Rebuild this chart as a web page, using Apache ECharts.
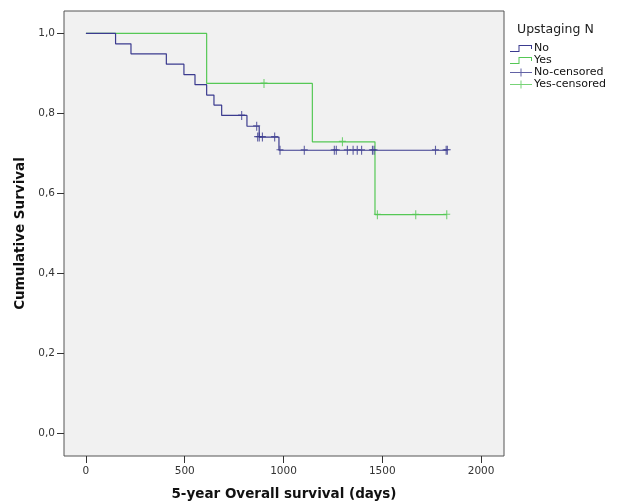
<!DOCTYPE html>
<html>
<head>
<meta charset="utf-8">
<script src="https://cdn.jsdelivr.net/npm/echarts@6/dist/echarts.min.js"></script>
<style>
html,body{margin:0;padding:0;background:#fff;}
#chart{width:621px;height:504px;}
</style>
</head>
<body>
<div id="chart"></div>
<script>
// Kaplan-Meier step curves: [day, cumulative survival]
var noCurve = [[0,1],[150,0.974],[228,0.949],[407,0.923],[496,0.897],[552,0.872],[611,0.846],[648,0.821],[687,0.795],[815,0.768],[877,0.741],[977,0.708],[1829,0.708]];
var yesCurve = [[0,1],[611,0.875],[1146,0.729],[1463,0.547],[1826,0.547]];
// Censored observations: [day, cumulative survival]
var noCensored = [[788,0.795],[864,0.768],[869,0.741],[877,0.741],[893,0.741],[955,0.741],[982,0.708],[1105,0.708],[1257,0.708],[1267,0.708],[1323,0.708],[1352,0.708],[1373,0.708],[1395,0.708],[1450,0.708],[1458,0.708],[1769,0.708],[1823,0.708],[1829,0.708]];
var yesCensored = [[901,0.875],[1298,0.729],[1475,0.547],[1669,0.547],[1826,0.547]];
var xTicks = [0,500,1000,1500,2000];
var yTicks = [0,0.2,0.4,0.6,0.8,1.0];
var seriesNames = ['No','Yes','No-censored','Yes-censored'];
var legendTitle = 'Upstaging N';
var xTitle = '5-year Overall survival (days)';
var yTitle = 'Cumulative Survival';

var BLUE = '#3b3b8f', GREEN = '#55c855';
var FONT = 'DejaVu Sans';
var plusSym = 'path://M0,3.5L7,3.5L7,4.6L0,4.6Z M3,0L4.1,0L4.1,9L3,9Z';
var stepIcon = 'path://M0,6.5L9.5,6.5L9.5,7.5L0,7.5Z M8.5,0.5L9.5,0.5L9.5,7.5L8.5,7.5Z M8.5,0.5L22,0.5L22,1.5L8.5,1.5Z M21,0.5L22,0.5L22,4.5L21,4.5Z';
var plusIcon = 'path://M0,3.5L22,3.5L22,4.5L0,4.5Z M10.5,0L11.5,0L11.5,8L10.5,8Z';

var chart = echarts.init(document.getElementById('chart'), null, {renderer:'canvas'});
chart.setOption({
  animation:false,
  backgroundColor:'#ffffff',
  title:{text:legendTitle, left:512, top:18, textStyle:{fontFamily:FONT, fontSize:12.5, fontWeight:'normal', color:'#222'}},
  legend:{
    orient:'vertical', left:505, top:38, itemWidth:22, itemHeight:8, itemGap:1,
    textStyle:{fontFamily:FONT, fontSize:11, color:'#111', padding:[0,0,0,-3]},
    data:[
      {name:seriesNames[0], icon:stepIcon},
      {name:seriesNames[1], icon:stepIcon},
      {name:seriesNames[2], icon:plusIcon},
      {name:seriesNames[3], icon:plusIcon}
    ]
  },
  grid:{left:64, top:11, right:117, bottom:48, outerBoundsMode:'none', containLabel:false,
    show:true, backgroundColor:'#f1f1f1', borderColor:'#555', borderWidth:1},
  xAxis:{
    type:'value', min:-111, max:2116,
    name:xTitle, nameLocation:'middle', nameGap:31,
    nameTextStyle:{fontFamily:FONT, fontSize:13.5, fontWeight:'bold', color:'#111'},
    axisLine:{show:false, onZero:false},
    axisTick:{show:true, length:7, customValues:xTicks, lineStyle:{color:'#333'}},
    axisLabel:{customValues:xTicks, margin:10, fontFamily:FONT, fontSize:10.5, color:'#333',
      formatter:function(v){return String(v);}},
    splitLine:{show:false}
  },
  yAxis:{
    type:'value', min:-0.056, max:1.056,
    name:yTitle, nameLocation:'middle', nameGap:35, nameRotate:90,
    nameTextStyle:{fontFamily:FONT, fontSize:13.5, fontWeight:'bold', color:'#111'},
    axisLine:{show:false, onZero:false},
    axisTick:{show:true, length:7, customValues:yTicks, lineStyle:{color:'#333'}},
    axisLabel:{customValues:yTicks, margin:9, fontFamily:FONT, fontSize:10.5, color:'#333',
      formatter:function(v){return v.toFixed(1).replace('.',',');}},
    splitLine:{show:false}
  },
  series:[
    {name:seriesNames[0], type:'line', step:'end', data:noCurve, symbol:'none', color:BLUE, itemStyle:{color:BLUE}, lineStyle:{color:BLUE, width:1.2}, z:3},
    {name:seriesNames[1], type:'line', step:'end', data:yesCurve, symbol:'none', color:GREEN, itemStyle:{color:GREEN}, lineStyle:{color:GREEN, width:1.2}, z:2},
    {name:seriesNames[2], type:'scatter', data:noCensored, symbol:plusSym, symbolSize:[7,9], color:BLUE, itemStyle:{color:BLUE}, z:4},
    {name:seriesNames[3], type:'scatter', data:yesCensored, symbol:plusSym, symbolSize:[7,9], color:GREEN, itemStyle:{color:GREEN}, z:4}
  ]
});
</script>
</body>
</html>
